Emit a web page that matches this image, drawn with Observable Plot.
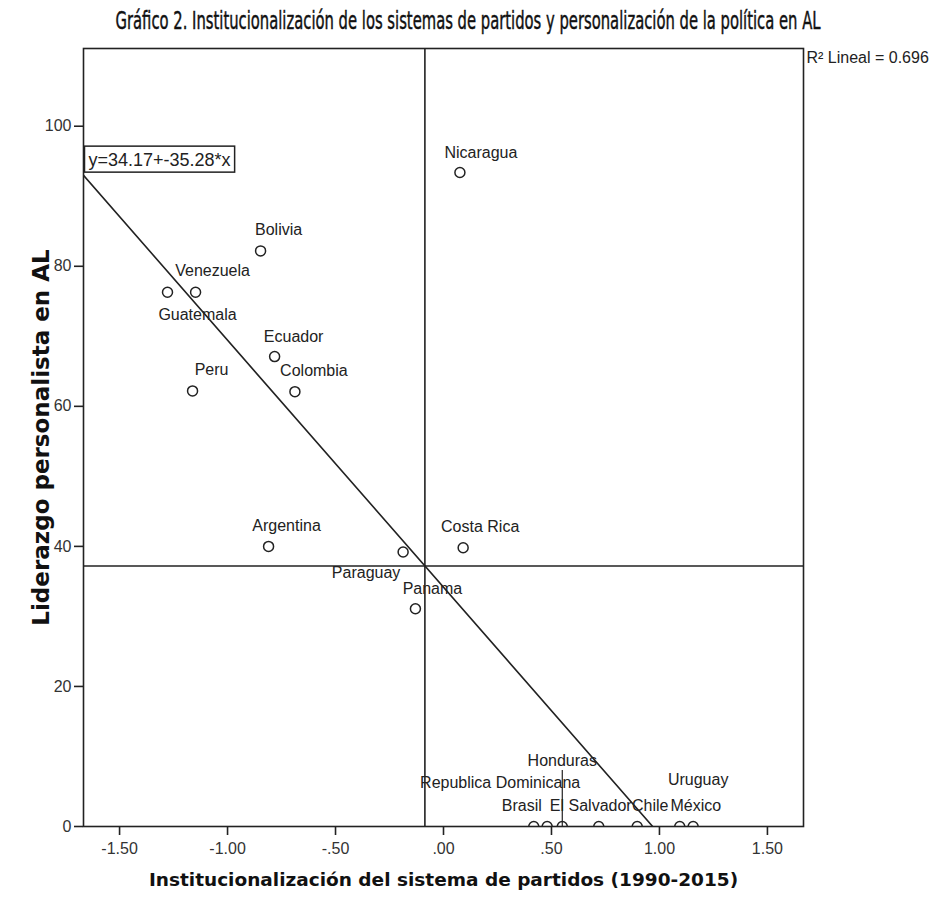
<!DOCTYPE html>
<html><head><meta charset="utf-8">
<script src="https://cdn.jsdelivr.net/npm/d3@7"></script>
<script src="https://cdn.jsdelivr.net/npm/@observablehq/plot@0.6"></script>
<style>
body{margin:0;background:#fff;}
#title{height:40px;width:936px;position:relative;overflow:visible;}
#title span{position:absolute;left:468px;top:7px;white-space:nowrap;font-family:'Liberation Sans Narrow','DejaVu Sans Condensed',sans-serif;font-weight:normal;-webkit-text-stroke:0.45px #111;font-size:25px;line-height:28px;color:#111;transform-origin:0 50%;}
</style></head><body>
<div id="title"><span>Gráfico 2. Institucionalización de los sistemas de partidos y personalización de la política en AL</span></div>
<div id="chart"></div>
<script>
// Data
const countries = ["Nicaragua","Bolivia","Venezuela","Guatemala","Ecuador","Colombia","Peru","Argentina","Paraguay","Costa Rica","Panama","Brasil","Republica Dominicana","Honduras","El Salvador","Chile","México","Uruguay"];
const institucionalizacion = [0.076,-0.847,-1.148,-1.278,-0.782,-0.688,-1.162,-0.810,-0.187,0.091,-0.130,0.418,0.480,0.550,0.719,0.897,1.094,1.156];
const liderazgo = [93.4,82.2,76.3,76.3,67.1,62.1,62.2,40.0,39.2,39.8,31.1,0,0,0,0,0,0,0];
const xTicks = [-1.5,-1,-0.5,0,0.5,1,1.5];
const xTickLabels = ["-1.50","-1.00","-.50",".00",".50","1.00","1.50"];
const yTicks = [0,20,40,60,80,100];
const intercept = 34.17;
const slope = -35.28;
const r2 = 0.696;
const xTitle = "Institucionalización del sistema de partidos (1990-2015)";
const yTitle = "Liderazgo personalista en AL";

// Layout (label offsets in pixels)
const labelOffset = {
  "Nicaragua":[21,-20],"Bolivia":[18,-21],"Venezuela":[17,-21],"Guatemala":[30,23],
  "Ecuador":[19,-20],"Colombia":[19,-21],"Peru":[19,-21],"Argentina":[18,-21],
  "Paraguay":[-37,21],"Costa Rica":[17,-21],"Panama":[17,-20],"Brasil":[-12,-21],
  "Republica Dominicana":[-47,-44],"Honduras":[0,-66],"El Salvador":[-8,-21],
  "Chile":[13,-21],"México":[16,-21],"Uruguay":[5,-47]
};
const xDomain = [-1.667, 1.667];
const yDomain = [0, 111.1];

// title: condensed to the reference width
{
  const span = document.querySelector("#title span");
  const w = span.getBoundingClientRect().width;
  const s = 705 / w;
  span.style.transform = `translateX(${-705/2}px) scaleX(${s})`;
}

const data = countries.map((c,i)=>({country:c, x:institucionalizacion[i], y:liderazgo[i]}));
const meanX = d3.mean(institucionalizacion);
const meanY = d3.mean(liderazgo);
const fitLine = xDomain.map(x=>({x, y: intercept + slope*x}));
const eqText = `y=${intercept}+${slope}*x`;
const ink = "#222";

const labelMarks = data.map(d => Plot.text([d], {
  x:"x", y:"y", text:"country", dx: labelOffset[d.country][0], dy: labelOffset[d.country][1],
  fontSize:16, fill:ink
}));

const chart = Plot.plot({
  width: 936, height: 866,
  marginTop: 8, marginBottom: 80, marginLeft: 83, marginRight: 133,
  style: {fontFamily: "'Liberation Sans', Arial, sans-serif", fontSize: "16px", color: "#333", background: "#fff"},
  x: {domain: xDomain},
  y: {domain: yDomain},
  marks: [
    Plot.ruleX([meanX], {stroke: ink, strokeWidth: 1.6}),
    Plot.ruleY([meanY], {stroke: ink, strokeWidth: 1.6}),
    Plot.line(fitLine, {x:"x", y:"y", stroke: ink, strokeWidth: 1.6, clip: true}),
    Plot.ruleX(data.filter(d=>d.country==="Honduras"), {x:"x", y1:"y", y2:"y", insetBottom: 56, stroke: ink, strokeWidth: 1.2}),
    Plot.dot(data, {x:"x", y:"y", r:5, stroke: ink, strokeWidth: 1.5, fill: "none", clip: true}),
    ...labelMarks,
    Plot.text([eqText], {x: xDomain[0], y: intercept + slope*xDomain[0], textAnchor: "start", dx: 5, dy: -15, fontSize: 18, fill: ink, className: "eqlabel"}),
    Plot.text([`R² Lineal = ${r2}`], {frameAnchor: "top-right", textAnchor: "start", dx: 3, dy: 3, fontSize: 16, fill: ink}),
    Plot.axisX({ticks: xTicks, tickFormat: v => xTickLabels[xTicks.indexOf(v)], tickSize: 9, tickPadding: 7, fontSize: 16, label: null, stroke: ink, strokeWidth: 1.6}),
    Plot.axisY({ticks: yTicks, tickSize: 9, tickPadding: 3, fontSize: 16, label: null, stroke: ink, strokeWidth: 1.6}),
    Plot.text([xTitle], {frameAnchor: "bottom", dy: 59, fontWeight: "bold", fontSize: 18.5, fill: "#111", fontFamily: "'DejaVu Sans', sans-serif"}),
    Plot.text([yTitle], {frameAnchor: "left", dx: -42, rotate: -90, textAnchor: "middle", fontWeight: "bold", fontSize: 23, fill: "#111", fontFamily: "'DejaVu Sans', sans-serif"}),
    Plot.frame({stroke: ink, strokeWidth: 1.6})
  ]
});
document.getElementById("chart").appendChild(chart);

// box around the equation label
const eq = d3.select(chart).select(".eqlabel text");
if (!eq.empty()) {
  const bb = eq.node().getBBox();
  const parent = eq.node().parentNode;
  const t = eq.attr("transform") || "";
  d3.select(parent).insert("rect", "text")
    .attr("transform", t)
    .attr("x", bb.x - 4).attr("y", bb.y - 4)
    .attr("width", bb.width + 8).attr("height", bb.height + 6)
    .attr("fill", "#fff").attr("stroke", ink).attr("stroke-width", 1.5);
}
</script>
</body></html>
